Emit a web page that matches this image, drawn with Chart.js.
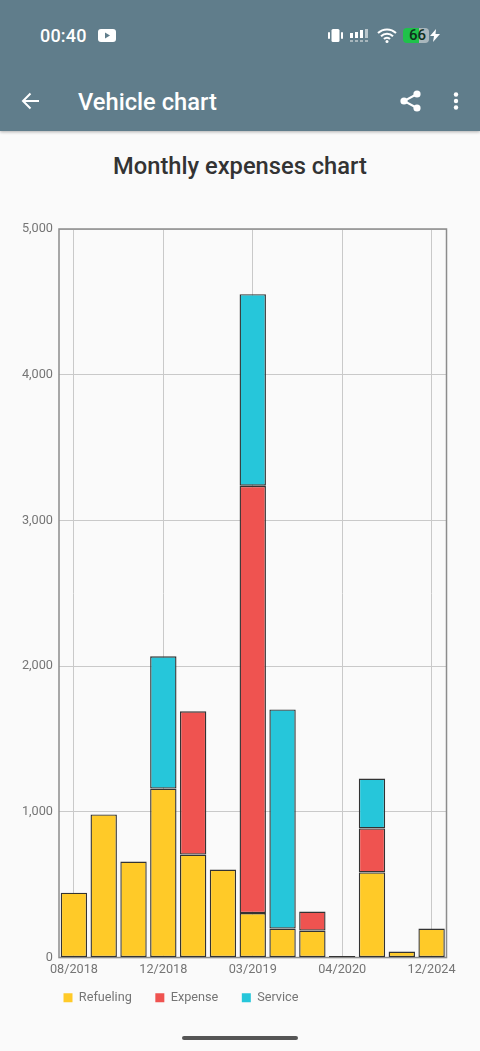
<!DOCTYPE html>
<html>
<head>
<meta charset="utf-8">
<title>Monthly expenses chart</title>
<script src="https://cdn.jsdelivr.net/npm/chart.js@4"></script>
<style>
  html, body { margin: 0; padding: 0; width: 480px; height: 1051px; overflow: hidden; background: #fafafa; font-family: Roboto, sans-serif; }
  #appbar { position: absolute; left: 0; top: 0; width: 480px; height: 131px; background: #607d8b; box-shadow: 0 1px 3px rgba(0,0,0,.3); color: #fff; }
  #appbar svg, #appbar div { position: absolute; }
  #time { left: 40px; top: 25px; font-size: 18px; font-weight: 500; line-height: 21px; letter-spacing: .2px; }
  #name { left: 78px; top: 88px; font-size: 23.7px; font-weight: 500; line-height: 29px; }
  #batt { left: 403px; top: 28px; width: 26px; height: 15px; border-radius: 4px; background: linear-gradient(90deg, #1fc24a 0 62%, #a9b7bd 62% 100%); color: #10301c; font-size: 15px; font-weight: 500; line-height: 15px; text-indent: 6px; }
  #heading { position: absolute; left: 0; top: 152px; width: 480px; text-align: center; font-size: 23.7px; font-weight: 500; line-height: 29px; color: #333; }
  #wrap { position: absolute; left: 0; top: 210px; width: 480px; height: 819px; }
  #handle { position: absolute; left: 182px; top: 1036px; width: 116px; height: 4px; border-radius: 2px; background: #555; }
</style>
</head>
<body>
<div id="appbar">
  <div id="time">00:40</div>
  <svg style="left:98px;top:29px" width="18" height="13" viewBox="0 0 18 13"><rect width="18" height="13" rx="3" fill="#fff"/><path d="M7 3.5v6l5-3z" fill="#607d8b"/></svg>
  <svg style="left:328px;top:29px" width="15" height="13" viewBox="0 0 15 13"><rect x="3.5" width="8" height="13" rx="1.5" fill="#fff"/><rect y="3" width="2" height="7" rx="1" fill="#fff"/><rect x="13" y="3" width="2" height="7" rx="1" fill="#fff"/></svg>
  <svg style="left:350px;top:29px" width="20" height="14" viewBox="0 0 20 14"><g fill="#fff"><rect y="4" width="3" height="5"/><rect x="5" y="3" width="3" height="6"/><rect x="10" y="1" width="3" height="8"/></g><rect x="15" width="3" height="9" fill="#b9c6cc"/><g fill="#a9b7bd"><rect y="11" width="3" height="2"/><rect x="5" y="11" width="3" height="2"/><rect x="10" y="11" width="3" height="2"/><rect x="15" y="11" width="3" height="2"/></g></svg>
  <svg style="left:377px;top:28px" width="20" height="15" viewBox="0 0 20 15"><path d="M1 5a13 13 0 0 1 18 0M4 8.2a8.5 8.5 0 0 1 12 0M7 11a4 4 0 0 1 6 0" fill="none" stroke="#fff" stroke-width="2"/><circle cx="10" cy="13.4" r="1.5" fill="#fff"/></svg>
  <div id="batt">66</div>
  <svg style="left:430px;top:29px" width="10" height="13" viewBox="0 0 10 13"><path d="M6 0 0 7h4l-1 6 7-8H5.500z" fill="#fff"/></svg>
  <svg style="left:21px;top:92px" width="19" height="18" viewBox="0 0 19 18"><path d="M18 9H2M9.500 1.500 2 9l7.500 7.500" fill="none" stroke="#fff" stroke-width="2"/></svg>
  <div id="name">Vehicle chart</div>
  <svg style="left:400px;top:90px" width="21" height="22" viewBox="0 0 21 22"><path d="M17 4 4 11l13 7" fill="none" stroke="#fff" stroke-width="2"/><circle cx="17" cy="4" r="3.600" fill="#fff"/><circle cx="4" cy="11" r="3.600" fill="#fff"/><circle cx="17" cy="18" r="3.600" fill="#fff"/></svg>
  <svg style="left:453px;top:92px" width="6" height="18" viewBox="0 0 6 18"><circle cx="3" cy="2.500" r="2.200" fill="#fff"/><circle cx="3" cy="9" r="2.200" fill="#fff"/><circle cx="3" cy="15.500" r="2.200" fill="#fff"/></svg>
</div>
<div id="heading">Monthly expenses chart</div>
<div id="wrap"><canvas id="chart"></canvas></div>
<div id="handle"></div>
<script>
const months = ['08/2018', '09/2018', '10/2018', '12/2018', '01/2019', '02/2019', '03/2019',
  '04/2019', '05/2019', '04/2020', '05/2020', '06/2020', '12/2024'];
const refueling = [445, 982, 659, 1160, 707, 604, 305, 199, 185, 10, 584, 41, 199];
const expense = [null, null, null, null, 983, null, 2933, null, 131, null, 302, null, null];
const service = [null, null, null, 907, null, null, 1315, 1504, null, null, 343, null, null];

const textGrey = '#757575';
const gridGrey = '#c9c9c9';

function makeSet(label, data, color) {
  return {
    label, data,
    backgroundColor: color,
    borderColor: '#333',
    borderWidth: 1.4,
    borderSkipped: false,
    barPercentage: 1,
    categoryPercentage: 0.885,
  };
}

// chart.js has no frame option for the plot area
const plotFrame = {
  id: 'plotFrame',
  beforeDatasetsDraw(chart) {
    const { ctx, chartArea: a } = chart;
    ctx.save();
    ctx.strokeStyle = '#8c8c8c';
    ctx.lineWidth = 1.5;
    ctx.strokeRect(a.left, a.top, a.right - a.left, a.bottom - a.top);
    ctx.restore();
  },
};

// the legend sits under the plot area, not at the canvas edge
const legendPlace = {
  id: 'legendPlace',
  afterLayout(chart) {
    chart.legend.left += 40;
    chart.legend.top -= 15;
  },
};

new Chart(document.getElementById('chart'), {
  type: 'bar',
  data: {
    labels: months,
    datasets: [
      makeSet('Refueling', refueling, '#ffca28'),
      makeSet('Expense', expense, '#ef5350'),
      makeSet('Service', service, '#26c6da'),
    ],
  },
  options: {
    responsive: true,
    maintainAspectRatio: false,
    animation: false,
    layout: { padding: { left: 0, right: 33.5, top: 19, bottom: 0 } },
    scales: {
      x: {
        stacked: true,
        grid: { offset: false, color: gridGrey, drawTicks: false },
        border: { display: false },
        ticks: {
          color: textGrey,
          font: { family: 'Roboto', size: 12.7 },
          padding: 5,
          maxRotation: 0,
          autoSkip: true,
          maxTicksLimit: 5,
        },
      },
      y: {
        stacked: true,
        min: 0,
        max: 5000,
        afterFit(scale) { scale.width = 59; },
        grid: { color: gridGrey, drawTicks: false },
        border: { display: false },
        ticks: {
          stepSize: 1000,
          color: textGrey,
          font: { family: 'Roboto', size: 12.7 },
          padding: 6,
          callback: v => v.toLocaleString('en-US'),
        },
      },
    },
    plugins: {
      title: { display: false },
      tooltip: { enabled: false },
      legend: {
        position: 'bottom',
        align: 'start',
        labels: {
          boxWidth: 9,
          boxHeight: 9,
          padding: 23.5,
          color: textGrey,
          font: { family: 'Roboto', size: 12.7 },
          generateLabels(chart) {
            return chart.data.datasets.map((d, i) => ({
              text: d.label,
              fillStyle: d.backgroundColor,
              strokeStyle: d.backgroundColor,
              lineWidth: 0,
              fontColor: textGrey,
              datasetIndex: i,
            }));
          },
        },
      },
    },
  },
  plugins: [plotFrame, legendPlace],
});
</script>
</body>
</html>
